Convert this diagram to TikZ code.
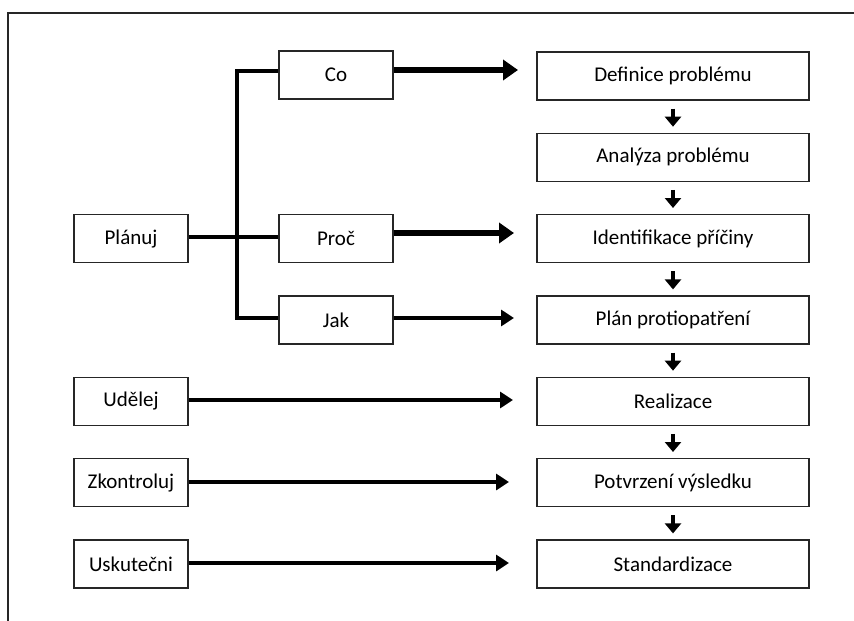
\documentclass[tikz,border=0pt]{standalone}
\usepackage{fontspec}
\setmainfont{Carlito}
\usetikzlibrary{arrows.meta}
\begin{document}
\begin{tikzpicture}[x=1pt,y=-1pt,
  box/.style={draw=black!85,line width=1.2pt,minimum height=48pt,inner sep=0pt,font=\fontsize{21}{24}\selectfont},
  lbox/.style={box,minimum width=114pt},
  rbox/.style={box,minimum width=272pt},
  bus/.style={line width=3.5pt},
  thickarrow/.style={line width=6.5pt,-{Triangle[length=15pt,width=20pt]}},
  thinarrow/.style={line width=4pt,-{Triangle[length=13pt,width=16pt]}},
  downarrow/.style={line width=4.5pt,-{Triangle[length=10pt,width=16pt]}},
  frame/.style={line width=1.4pt,draw=black!85}]
\useasboundingbox (0,0) rectangle (854,621);
\draw[frame] (8,621) -- (8,13) -- (854,13);
% right column
\node[rbox] (r1) at (673,76) {Definice problému};
\node[rbox] (r2) at (673,157.3) {Analýza problému};
\node[rbox] (r3) at (673,238.6) {Identifikace příčiny};
\node[rbox] (r4) at (673,320) {Plán protiopatření};
\node[rbox] (r5) at (673,401.3) {Realizace};
\node[rbox] (r6) at (673,482.6) {Potvrzení výsledku};
\node[rbox] (r7) at (673,564) {Standardizace};
% middle column
\node[lbox] (co) at (336,75) {Co};
\node[lbox] (proc) at (336,238.6) {Proč};
\node[lbox] (jak) at (336,320) {Jak};
% left column
\node[lbox] (plan) at (131,238.6) {Plánuj};
\node[lbox] (udel) at (131,401.3) {Udělej};
\node[lbox] (zkon) at (131,482.6) {Zkontroluj};
\node[lbox] (usku) at (131,564) {Uskutečni};
% bus
\coordinate (bt) at (237,71);
\coordinate (bm) at (237,237);
\coordinate (bb) at (237,318);
\draw[bus] (co.west |- bt) -- (bt) -- (bb) -- (jak.west |- bb);
\draw[bus] (plan.east |- bm) -- (proc.west |- bm);
% horizontal arrows
\coordinate (t1) at (518,70);
\coordinate (t3) at (514,233);
\coordinate (t4) at (514,318);
\coordinate (t5) at (513,400);
\coordinate (t6) at (509,482);
\coordinate (t7) at (509,563);
\draw[thickarrow] (co.east |- t1) -- (t1);
\draw[thickarrow] (proc.east |- t3) -- (t3);
\draw[thinarrow] (jak.east |- t4) -- (t4);
\draw[thinarrow] (udel.east |- t5) -- (t5);
\draw[thinarrow] (zkon.east |- t6) -- (t6);
\draw[thinarrow] (usku.east |- t7) -- (t7);
% down arrows
\foreach \a/\b in {r1/r2,r2/r3,r3/r4,r4/r5,r5/r6,r6/r7}{
  \draw[downarrow] ([yshift=-8pt]\a.south) -- ([yshift=6pt]\b.north);
}
\end{tikzpicture}
\end{document}
